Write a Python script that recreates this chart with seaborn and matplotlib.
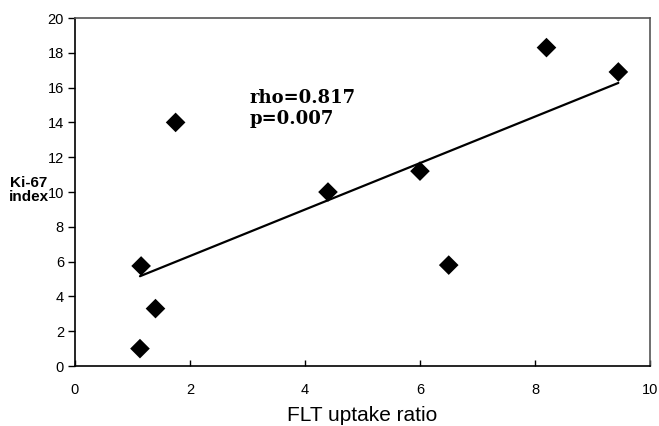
import numpy as np
import pandas as pd
import matplotlib
matplotlib.use("Agg")
import matplotlib.pyplot as plt
import seaborn as sns

# FLT uptake ratio vs Ki-67 index
flt_ratio = [1.13, 1.15, 1.4, 1.75, 4.4, 6.0, 6.5, 8.2, 9.45]
ki67 = [1.0, 5.75, 3.3, 14.0, 10.0, 11.2, 5.8, 18.3, 16.9]
x_ticks = [0, 2, 4, 6, 8, 10]
y_ticks = [0, 2, 4, 6, 8, 10, 12, 14, 16, 18, 20]

df = pd.DataFrame({"flt": flt_ratio, "ki67": ki67})

sns.set_style("ticks", {"text.color": "black", "axes.labelcolor": "black",
                        "xtick.color": "black", "ytick.color": "black",
                        "axes.edgecolor": "black"})
plt.rcParams["font.family"] = ["Liberation Sans", "DejaVu Sans"]

fig = plt.figure(figsize=(6.59, 4.26), dpi=100)
ax = fig.add_axes([0.1138, 0.1408, 0.8725, 0.8169])

sns.regplot(data=df, x="flt", y="ki67", ax=ax, ci=None, truncate=True,
            marker="D", color="black",
            scatter_kws={"s": 100, "edgecolors": "none", "alpha": 1, "zorder": 3},
            line_kws={"linewidth": 1.6, "color": "black"})

ax.set_xlim(0, 10)
ax.set_ylim(0, 20)
ax.set_xticks(x_ticks)
ax.set_yticks(y_ticks)
ax.tick_params(axis="x", direction="in", length=4, width=1, pad=12, labelsize=10.5,
               bottom=True, colors="black")
ax.tick_params(axis="y", direction="out", length=5, width=1, pad=3, labelsize=10.5,
               left=True, colors="black")
ax.set_xlabel("FLT uptake ratio", fontsize=15, labelpad=7, color="black")
ax.set_ylabel("")

for side in ["left", "bottom"]:
    ax.spines[side].set_color("black")
    ax.spines[side].set_linewidth(1.2)
for side in ["top", "right"]:
    ax.spines[side].set_visible(True)
    ax.spines[side].set_color("#555555")
    ax.spines[side].set_linewidth(1.2)

fig.text(29 / 659, 1 - 190 / 426, "Ki-67\nindex", ha="center", va="center",
         fontsize=11, fontweight="bold", linespacing=1.05, color="black")

ax.text(3.04, 13.7, "rho=0.817\np=0.007", ha="left", va="bottom",
        fontsize=13, fontweight="bold", family=["DejaVu Serif"],
        linespacing=1.2, color="black")

fig.savefig("out.png", dpi=100)
